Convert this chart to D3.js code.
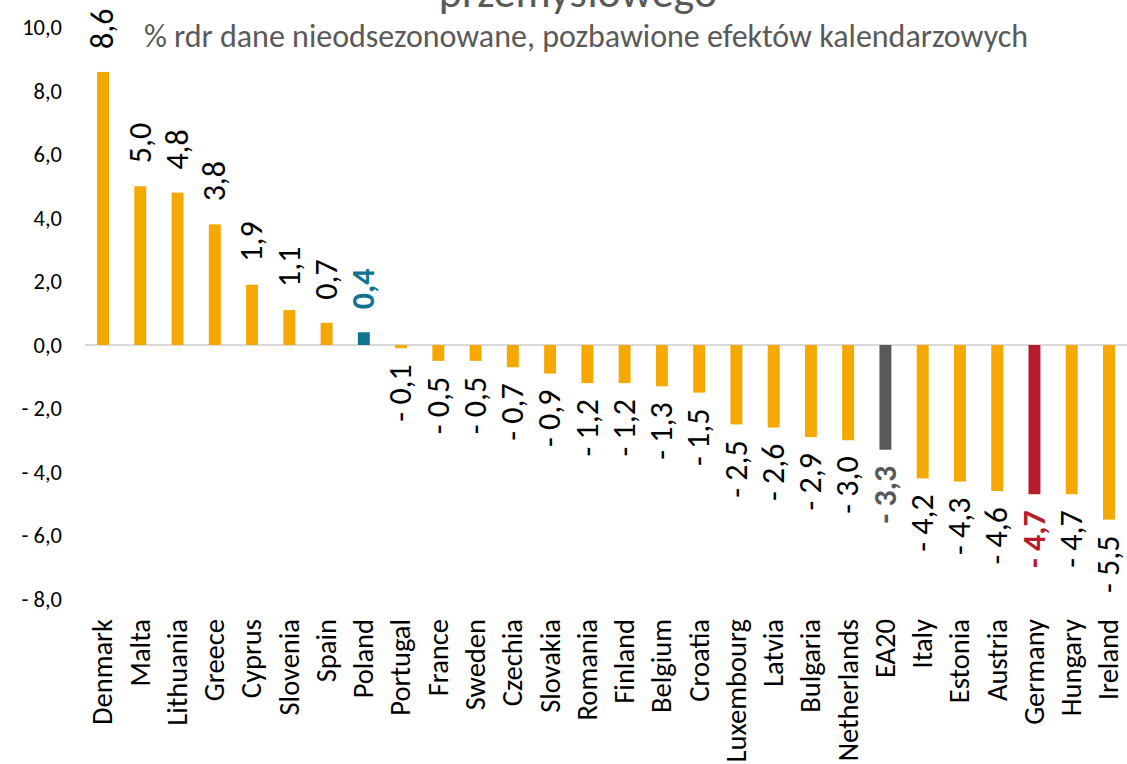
<!DOCTYPE html>
<html>
<head>
<meta charset="utf-8">
<script src="https://cdn.jsdelivr.net/npm/d3@7"></script>
<style>
  body { margin: 0; background: #fff; }
  text { font-family: Calibri, Carlito, 'Open Sans', sans-serif; }
</style>
</head>
<body>
<script>
const categories = ['Denmark', 'Malta', 'Lithuania', 'Greece', 'Cyprus', 'Slovenia', 'Spain', 'Poland',
  'Portugal', 'France', 'Sweden', 'Czechia', 'Slovakia', 'Romania', 'Finland', 'Belgium', 'Croatia',
  'Luxembourg', 'Latvia', 'Bulgaria', 'Netherlands', 'EA20', 'Italy', 'Estonia', 'Austria', 'Germany',
  'Hungary', 'Ireland'];
const values = [8.6, 5.0, 4.8, 3.8, 1.9, 1.1, 0.7, 0.4,
  -0.1, -0.5, -0.5, -0.7, -0.9, -1.2, -1.2, -1.3, -1.5,
  -2.5, -2.6, -2.9, -3.0, -3.3, -4.2, -4.3, -4.6, -4.7,
  -4.7, -5.5];
const yTicks = [-8, -6, -4, -2, 0, 2, 4, 6, 8, 10];
const titleText = 'przemysłowego';
const subtitleText = '% rdr dane nieodsezonowane, pozbawione efektów kalendarzowych';

const w = 1127,
  h = 764;

const baseColor = '#F5A800';
const special = {
  Poland: '#0F7391',
  EA20: '#58595B',
  Germany: '#B81B2B'
};

const data = categories.map((c, i) => ({ name: c, value: values[i] }));

const fmt = v => (v < 0 ? '- ' : '') + Math.abs(v).toFixed(1).replace('.', ',');

const x = d3.scaleBand()
  .domain(categories)
  .range([84.4, 1127.6])
  .paddingInner(0.68)
  .paddingOuter(0.34);

const y = d3.scaleLinear()
  .domain([-8, 10])
  .range([599, 27.5]);

const svg = d3.select('body')
  .append('svg')
  .attr('width', w)
  .attr('height', h);

// title (first line sits above the picture)
svg.append('text')
  .attr('x', 578)
  .attr('y', 7)
  .attr('text-anchor', 'middle')
  .attr('font-size', '44px')
  .attr('fill', '#595959')
  .text(titleText);

svg.append('text')
  .attr('x', 586)
  .attr('y', 47)
  .attr('text-anchor', 'middle')
  .attr('font-size', '32px')
  .attr('fill', '#595959')
  .text(subtitleText);

// y axis labels only
const yAxis = d3.axisLeft(y)
  .tickValues(yTicks)
  .tickFormat(fmt)
  .tickSize(0)
  .tickPadding(8);

const ax = svg.append('g')
  .attr('transform', 'translate(70,0)')
  .call(yAxis);
ax.select('.domain').remove();
ax.selectAll('text')
  .attr('font-size', '22.5px')
  .attr('font-family', "Calibri, Carlito, 'Open Sans', sans-serif")
  .attr('fill', '#000');

// zero line
svg.append('line')
  .attr('x1', 85)
  .attr('x2', w)
  .attr('y1', y(0))
  .attr('y2', y(0))
  .attr('stroke', '#D9D9D9')
  .attr('stroke-width', 2);

svg.selectAll('rect.bar')
  .data(data)
  .enter()
  .append('rect')
  .attr('class', 'bar')
  .attr('x', d => x(d.name))
  .attr('width', x.bandwidth())
  .attr('y', d => y(Math.max(0, d.value)))
  .attr('height', d => Math.abs(y(d.value) - y(0)))
  .attr('fill', d => special[d.name] || baseColor);

// value labels
svg.selectAll('text.val')
  .data(data)
  .enter()
  .append('text')
  .attr('class', 'val')
  .attr('transform', d => {
    const cx = x(d.name) + x.bandwidth() / 2;
    const cy = d.value >= 0 ? y(d.value) - 23 : y(d.value) + 16;
    return `translate(${cx},${cy}) rotate(-90)`;
  })
  .attr('text-anchor', d => d.value >= 0 ? 'start' : 'end')
  .attr('dy', '0.32em')
  .attr('font-size', '32px')
  .attr('font-weight', d => special[d.name] ? 'bold' : 'normal')
  .attr('fill', d => special[d.name] || '#000')
  .text(d => fmt(d.value));

// category labels
svg.selectAll('text.cat')
  .data(data)
  .enter()
  .append('text')
  .attr('class', 'cat')
  .attr('transform', d => `translate(${x(d.name) + x.bandwidth() / 2},619) rotate(-90)`)
  .attr('text-anchor', 'end')
  .attr('dy', '0.33em')
  .attr('font-size', '28.5px')
  .attr('fill', '#000')
  .text(d => d.name);
</script>
</body>
</html>
